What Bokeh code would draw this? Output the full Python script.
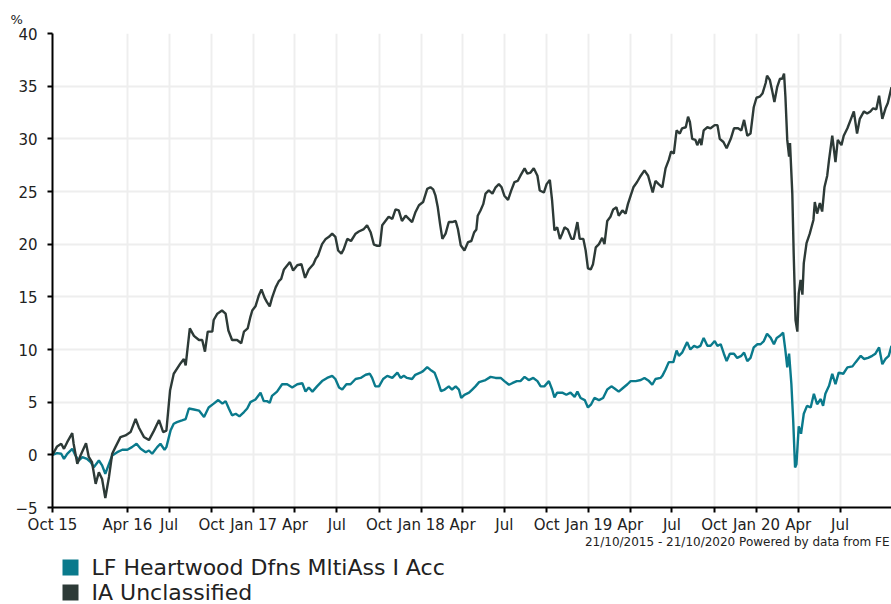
import pandas as pd
from bokeh.plotting import figure
from bokeh.layouts import column
from bokeh.models import FixedTicker, Range1d, Title, ColumnDataSource
from bokeh.core.properties import value
from bokeh.embed import file_html
from bokeh.resources import INLINE

START = "2015-10-21"

tick_dates = ["2015-10-21", "2016-04-01", "2016-07-01", "2016-10-01", "2017-01-01", "2017-04-01",
              "2017-07-01", "2017-10-01", "2018-01-01", "2018-04-01", "2018-07-01", "2018-10-01",
              "2019-01-01", "2019-04-01", "2019-07-01", "2019-10-01", "2020-01-01", "2020-04-01",
              "2020-07-01"]
tick_labels = ["Oct 15", "Apr 16", "Jul", "Oct", "Jan 17", "Apr", "Jul", "Oct", "Jan 18", "Apr",
               "Jul", "Oct", "Jan 19", "Apr", "Jul", "Oct", "Jan 20", "Apr", "Jul"]
y_ticks = [-5, 0, 5, 10, 15, 20, 25, 30, 35, 40]

# days since 21/10/2015
fund_days = [0, 10, 19, 25, 32, 43, 50, 57, 65, 75, 83, 90, 101, 108, 115, 123, 130, 141, 152, 163,
             173, 183, 192, 203, 210, 217, 228, 235, 244, 248, 257, 264, 271, 282, 290, 297, 308, 319, 330, 340,
             351, 361, 370, 377, 384, 391, 399, 407, 417, 424, 431,
             442, 453, 460, 467, 473, 478, 489, 500, 511, 522, 533, 544, 551, 558, 566, 576, 587, 598, 609, 616,
             624, 631, 640, 649, 660, 671, 682, 691, 696, 703, 711, 720, 729, 740, 751, 758, 765, 772, 783, 790,
             801, 807, 816, 825, 832, 839, 846, 854, 863,
             870, 878, 885, 890, 897, 907, 914, 921, 929, 936, 943, 954, 965, 976, 984, 994, 1001, 1011, 1019, 1028,
             1037, 1047, 1056, 1063, 1071, 1081, 1088, 1093, 1099, 1110, 1119, 1128, 1137, 1143, 1150, 1159, 1166,
             1173, 1180, 1190, 1199, 1208, 1217, 1224, 1233, 1241, 1252, 1259, 1270, 1281, 1289, 1299, 1306, 1313,
             1324,
             1328, 1335, 1342, 1352, 1359, 1364, 1371, 1382, 1389, 1397, 1404, 1411, 1418, 1426, 1433, 1442, 1448,
             1455, 1462, 1468, 1475, 1484, 1491, 1500, 1506, 1513, 1520, 1527, 1535, 1542, 1549, 1556, 1564, 1571,
             1577, 1584, 1591, 1596, 1600, 1604, 1609, 1613, 1617, 1620, 1625, 1630, 1636, 1643, 1651, 1658, 1665,
             1673, 1678, 1683, 1691, 1698, 1705, 1712, 1722, 1731, 1742, 1749, 1760, 1767, 1776, 1785, 1792, 1800,
             1807, 1814, 1821, 1827]
fund_vals = [0.0, 0.16, 0.1, -0.38, 0.1, 0.57, -0.06, -0.54, -0.22, -0.38, -0.7, -1.17, -0.54, -1.0, -1.8, -0.86,
             -0.06, 0.25, 0.48, 0.48, 0.73, 1.05, 0.57, 0.25, 0.41, 0.1, 0.73, 1.05, 0.48, 0.73, 2.3, 2.95, 3.1,
             3.27, 3.4, 4.4, 4.3, 4.2, 3.6, 4.5, 4.86, 5.2, 4.86, 5.1, 4.4, 3.75, 3.9, 3.65, 4.06, 4.4, 5.0,
             5.25, 5.9, 5.1, 5.1, 4.94, 5.6, 6.0, 6.7, 6.7, 6.4, 6.7, 6.8, 6.0, 6.4, 6.0, 6.5, 7.0, 7.3, 7.5, 7.2,
             6.4, 6.2, 6.7, 6.7, 7.2, 7.3, 7.6, 7.7, 7.3, 6.5, 6.5, 7.2, 7.5, 7.3, 7.8, 7.3, 7.5, 7.3, 7.2, 7.6,
             7.8, 7.95, 8.33, 8.0, 7.8, 7.0, 6.05, 6.2, 6.5,
             6.2, 6.5, 6.2, 5.4, 5.7, 5.9, 6.2, 6.5, 6.9, 7.0, 7.1, 7.4, 7.3, 7.3, 7.0, 6.65, 6.8, 7.0, 7.0, 7.4,
             7.1, 7.3, 7.0, 6.5, 6.5, 7.0, 6.2, 5.45, 5.9, 5.9, 5.7, 5.9, 5.5, 6.0, 5.4, 5.2, 4.5, 4.8, 5.4, 5.2,
             5.4, 6.2, 6.5, 6.3, 6.0, 6.3, 6.7, 7.0, 7.0, 7.1, 7.3, 7.0, 6.65, 7.2, 7.3,
             7.5, 8.1, 8.8, 8.8, 9.9, 9.4, 9.7, 10.7, 10.0, 10.35, 10.2, 10.35, 11.1, 10.35, 10.35, 10.8, 10.35,
             10.5, 9.6, 8.9, 9.6, 9.6, 9.2, 9.4, 9.7, 8.9, 9.2, 10.2, 10.5, 10.5, 10.8, 11.5, 11.1, 10.5, 11.1,
             11.3, 11.6, 9.9, 8.3, 9.6, 6.7, 3.2, -1.2, -0.9, 2.7, 2.0, 3.9, 4.65, 4.5, 5.8, 4.8, 5.3, 4.65, 5.8,
             6.55, 7.7, 6.7, 7.8, 7.7, 8.3, 8.4, 8.8, 9.4, 9.1, 9.2, 9.4, 9.6, 10.2, 8.6, 9.1, 9.4, 10.35]

sector_days = [0, 10, 19, 25, 32, 43, 46, 54, 61, 73, 79, 86, 94, 101, 108, 115, 123, 130, 137, 148,
               159, 170, 181, 188, 199, 210, 221, 232, 241, 248, 256, 264, 279, 286, 290, 299, 308, 319, 326, 332,
               338, 348, 351, 359, 369, 377, 383, 391, 402, 411, 417, 425, 431,
               435, 442, 449, 455, 462, 467, 473, 478, 486, 493, 498, 504, 517, 524, 533, 542, 550, 558, 568, 573,
               578, 587, 595, 602, 609, 616, 622, 629, 634, 642, 650, 660, 667, 677, 685, 693, 700, 707, 713, 718,
               725, 732, 740, 747, 754, 761, 769, 776, 783, 790, 798, 807, 816, 823, 829, 834, 839, 844, 849, 856,
               863,
               870, 878, 883, 889, 897, 905, 912, 918, 923, 926, 932, 938, 943, 950, 958, 965, 972, 978, 984, 992,
               999, 1006, 1013, 1019, 1028, 1034, 1041, 1048, 1056, 1061, 1070, 1076, 1083, 1088, 1093, 1099, 1105,
               1110, 1115, 1122, 1130, 1135, 1143, 1148, 1156, 1161, 1166, 1172, 1177, 1183, 1190, 1197, 1202, 1208,
               1215, 1221, 1228, 1233, 1241, 1248, 1253, 1259, 1265, 1273, 1281, 1289, 1297, 1302, 1307, 1313, 1320,
               1328, 1335, 1342, 1347, 1353, 1359, 1366, 1371, 1379, 1384, 1388, 1393, 1400, 1404, 1410, 1413, 1418,
               1426, 1433, 1442, 1448, 1453, 1461, 1468, 1477, 1484, 1493, 1500, 1506, 1513, 1520, 1527, 1533, 1540,
               1546, 1553, 1556, 1562, 1567, 1572, 1578, 1584, 1589, 1593, 1596, 1600, 1604, 1606, 1611, 1614, 1618,
               1622, 1625, 1629, 1633, 1636, 1642, 1649, 1657, 1660, 1665, 1671, 1676, 1681, 1687, 1691, 1698, 1705,
               1710, 1718, 1723, 1731, 1738, 1745, 1752, 1758, 1767, 1774, 1781, 1787, 1794, 1800, 1807, 1814, 1819,
               1827]
sector_vals = [0.0, 0.8, 1.05, 0.57, 1.2, 2.06, 1.05, -0.86, -0.06, 1.1, -0.2, -0.7, -2.76, -1.65, -2.3, -4.1,
               -2.1, 0.1, 0.73, 1.68, 1.84, 2.16, 3.4, 2.6, 1.7, 1.4, 2.3, 3.3, 2.16, 2.3, 6.1, 7.7, 8.7, 9.1, 8.5,
               12.0, 11.3, 10.9, 10.9, 9.8, 11.7, 11.7, 12.8, 13.4, 13.7, 13.4, 11.8, 10.9, 10.9, 10.6, 11.7, 12.0,
               13.1,
               13.7, 14.1, 15.1, 15.7, 14.9, 14.5, 14.1, 14.9, 15.9, 16.5, 16.7, 17.6, 18.3, 17.5, 18.0, 18.1, 16.8,
               17.6, 18.1, 18.6, 18.9, 20.0, 20.5, 20.7, 21.0, 20.7, 19.4, 19.1, 19.5, 20.5, 20.3, 21.0, 21.2, 21.4,
               21.8, 21.1, 19.95, 19.85, 19.85, 21.8, 22.2, 22.6, 22.4, 23.3, 23.2, 22.2, 22.7, 22.4, 22.1, 23.0,
               23.7, 24.0, 25.25, 25.4, 25.2, 24.6, 23.5, 21.9, 20.5, 21.0, 22.1,
               22.1, 22.2, 21.4, 19.9, 19.4, 20.2, 20.3, 21.1, 21.4, 22.7, 23.2, 23.8, 24.8, 25.1, 24.8, 25.4, 25.7,
               25.4, 24.6, 24.2, 25.1, 25.9, 26.0, 26.5, 27.2, 26.7, 26.8, 27.2, 26.5, 25.1, 24.9, 25.7, 26.1, 24.1,
               21.3, 21.6, 20.5, 21.0, 21.6, 21.4, 20.5, 20.5, 22.1, 20.5, 20.5, 19.4, 17.7, 17.6, 18.1, 19.7, 20.0,
               20.6, 20.0, 22.2, 22.6, 23.3, 23.5, 22.7, 23.2, 22.9, 23.8, 24.6, 25.4, 25.9, 26.5, 27.0, 26.5, 25.7,
               24.9, 26.0, 25.7,
               25.4, 27.2, 28.0, 28.8, 28.6, 30.8, 30.5, 31.0, 31.1, 32.1, 31.6, 30.0, 29.9, 29.4, 30.0, 29.4, 30.8,
               31.1, 31.0, 31.3, 31.3, 30.0, 29.7, 29.1, 30.0, 31.0, 31.0, 30.8, 31.8, 30.3, 30.5, 33.0, 33.9, 34.0,
               34.3, 35.3, 36.0, 35.6, 34.6, 33.5, 34.9, 35.7, 35.7, 36.2, 34.0, 29.9, 28.3, 29.6, 24.8, 19.1, 12.8,
               11.7, 15.3, 16.6, 15.2, 18.2, 20.1, 21.0, 22.3, 24.0, 22.9, 23.9, 23.1, 25.4, 26.5, 28.0, 30.3, 27.8,
               29.9, 29.4, 30.3, 31.0, 31.8, 32.6, 30.5, 31.9, 32.6, 32.4, 32.6, 32.9, 32.8, 34.1, 31.9, 32.9, 33.4,
               34.9]

series_names = ["LF Heartwood Dfns MltiAss I Acc", "IA Unclassified"]
series_colors = ["#0a7a8c", "#2d3a37"]
footer_text = "21/10/2015 - 21/10/2020 Powered by data from FE"

start = pd.Timestamp(START)
tick_days = [int((pd.Timestamp(d) - start).days) for d in tick_dates]

FONT = "DejaVu Sans"
TOP_H = 555          # height of the chart block
LEG_H = 604 - TOP_H  # height of the legend block below it
FRAME_L = 52         # left edge of the plotting frame (px)

p = figure(frame_width=839, frame_height=474, output_backend="svg", toolbar_location=None,
           x_range=Range1d(0, 1827), y_range=Range1d(-5, 40),
           min_border_left=FRAME_L, min_border_right=0, min_border_top=33,
           min_border_bottom=TOP_H - 33 - 474)
p.outline_line_color = None
p.background_fill_color = "white"
p.border_fill_color = "white"

fund_src = ColumnDataSource(dict(x=fund_days, y=fund_vals))
sector_src = ColumnDataSource(dict(x=sector_days, y=sector_vals))
p.line("x", "y", source=fund_src, line_color=series_colors[0], line_width=2.4)
p.line("x", "y", source=sector_src, line_color=series_colors[1], line_width=2.4)

p.xaxis.ticker = FixedTicker(ticks=tick_days)
p.xaxis.major_label_overrides = {d: lab for d, lab in zip(tick_days, tick_labels)}
p.yaxis.ticker = FixedTicker(ticks=y_ticks)

for ax in (p.xaxis[0], p.yaxis[0]):
    ax.axis_line_color = "black"
    ax.axis_line_width = 2
    ax.major_tick_line_color = "black"
    ax.major_tick_line_width = 2
    ax.major_tick_in = 0
    ax.major_tick_out = 5
    ax.minor_tick_line_color = None
    ax.major_label_text_font = FONT
    ax.major_label_text_font_size = "15px"
    ax.major_label_text_color = "#222222"
p.yaxis.major_label_standoff = 10
p.xaxis.major_label_standoff = 3

p.xgrid.grid_line_color = "#eeeeee"
p.ygrid.grid_line_color = "#eeeeee"
p.xgrid.grid_line_width = 2
p.ygrid.grid_line_width = 2

# "%" unit marker above the y axis
p.add_layout(Title(text="%", align="left", offset=-42, standoff=13, text_font=FONT,
                   text_font_size="13px", text_font_style="normal", text_color="#222222"), "above")

# footer source line
p.add_layout(Title(text=footer_text, align="right", offset=2, standoff=-7, text_font=FONT,
                   text_font_size="12px", text_font_style="normal", text_color="#222222"), "below")

# legend block (square swatches + labels); its frame is aligned with the chart frame,
# so its x range is expressed in page pixels from FRAME_L to the right edge
leg = figure(width=891, height=LEG_H, output_backend="svg", toolbar_location=None,
             x_range=Range1d(FRAME_L, 891), y_range=Range1d(LEG_H, 0),
             x_axis_location=None, y_axis_location=None,
             min_border=0, min_border_left=FRAME_L, min_border_right=0, min_border_top=0, min_border_bottom=0)
leg.outline_line_color = None
leg.xgrid.visible = False
leg.ygrid.visible = False
leg.background_fill_color = "white"
leg.border_fill_color = "white"

row_y = [567 - TOP_H, 592 - TOP_H]
leg_src = ColumnDataSource(dict(sx=[70, 70], tx=[91, 91], y=row_y, label=series_names, color=series_colors))
leg.scatter(x="sx", y="y", source=leg_src, marker="square", size=16, fill_color="color", line_color=None)
leg.text(x="tx", y="y", text="label", source=leg_src, text_font=value(FONT), text_font_size="22px",
         text_baseline="middle", text_align="left", text_color="#222222")

layout = column(p, leg, spacing=0)
open("out.html", "w").write(file_html(layout, INLINE))
